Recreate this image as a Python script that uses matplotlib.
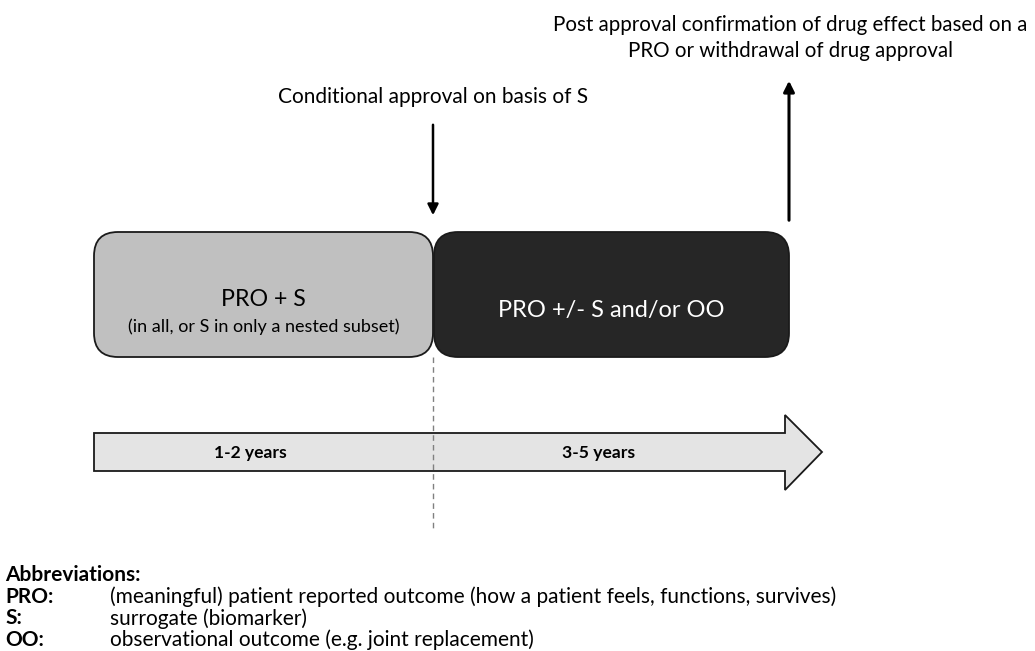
import matplotlib
matplotlib.use("Agg")
from matplotlib import pyplot as plt
from matplotlib.patches import FancyBboxPatch, Polygon

plt.rcParams['font.family'] = ['Lato', 'DejaVu Sans']

# phases of the timeline
phaseNames = ["PRO + S", "PRO +/- S and/or OO"]
phaseNotes = ["(in all, or S in only a nested subset)", ""]
phaseYears = ["1-2 years", "3-5 years"]
eventTexts = ["Conditional approval on basis of S",
              "Post approval confirmation of drug effect based on a\nPRO or withdrawal of drug approval"]
abbrevKeys = ["PRO:", "S:", "OO:"]
abbrevText = ["(meaningful) patient reported outcome (how a patient feels, functions, survives)",
              "surrogate (biomarker)",
              "observational outcome (e.g. joint replacement)"]

fig = plt.figure(figsize=(10.35, 6.51), dpi=100)
ax = fig.add_axes([0, 0, 1, 1])
ax.set_xlim(0, 1035)
ax.set_ylim(651, 0)
ax.axis("off")

# phase boxes
boxes = [(94, 433, "#c0c0c0", "black"), (434, 789, "#262626", "white")]
for i in range(2):
    x0, x1, fc, tc = boxes[i]
    r = 24
    ax.add_patch(FancyBboxPatch((x0 + r, 232 + r), x1 - x0 - 2 * r, 125 - 2 * r,
                                boxstyle="round,pad=%d" % r, fc=fc, ec="#1a1a1a", lw=1.3))
    cx = (x0 + x1) / 2
    if phaseNotes[i]:
        ax.text(cx, 299, phaseNames[i], ha="center", va="center", fontsize=16.7, color=tc)
        ax.text(cx, 327, phaseNotes[i], ha="center", va="center", fontsize=13, color=tc)
    else:
        ax.text(cx, 311, phaseNames[i], ha="center", va="center", fontsize=17, color=tc)

# timeline block arrow
arrowPts = [(94, 433), (785, 433), (785, 415), (822, 452), (785, 490), (785, 471), (94, 471)]
ax.add_patch(Polygon(arrowPts, closed=True, fc="#e4e4e4", ec="#1a1a1a", lw=1.3))
ax.text(250, 453, phaseYears[0], ha="center", va="center", fontsize=12.6, fontweight="bold")
ax.text(599, 453, phaseYears[1], ha="center", va="center", fontsize=12.6, fontweight="bold")

# dashed separator
ax.plot([433, 433], [357, 530], color="#808080", lw=1, ls=(0, (4, 3)))

# event arrows
ax.annotate("", xy=(433, 218), xytext=(433, 122),
            arrowprops=dict(arrowstyle="-|>", color="black", lw=1.8, mutation_scale=16))
ax.text(433, 97, eventTexts[0], ha="center", va="center", fontsize=15)
ax.annotate("", xy=(789, 78), xytext=(789, 223),
            arrowprops=dict(arrowstyle="-|>", color="black", lw=2.2, mutation_scale=16))
for j, line in enumerate(eventTexts[1].split("\n")):
    ax.text(790, 25 + 26 * j, line, ha="center", va="center", fontsize=14.8)

# abbreviations
ax.text(5, 575, "Abbreviations:", ha="left", va="center", fontsize=15, fontweight="bold")
for i in range(len(abbrevKeys)):
    y = 597 + 21.5 * i
    ax.text(5, y, abbrevKeys[i], ha="left", va="center", fontsize=15, fontweight="bold")
    ax.text(110, y, abbrevText[i], ha="left", va="center", fontsize=15)

fig.savefig("out.png", dpi=100)
